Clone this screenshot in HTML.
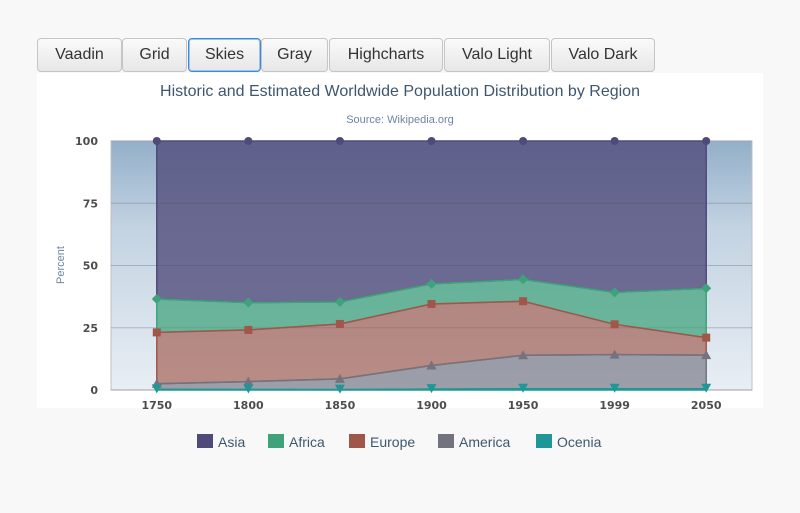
<!DOCTYPE html>
<html><head><meta charset="utf-8"><style>
body{margin:0;width:800px;height:513px;background:#f8f8f8;font-family:"Liberation Sans",sans-serif;position:relative;overflow:hidden}
.btn{position:absolute;top:38px;height:34px;box-sizing:border-box;border:1px solid #c5c5c5;border-radius:4px;background:linear-gradient(#fafafa,#e7e7e7);font-size:16px;color:#333;display:flex;align-items:center;justify-content:center}
.btn.sel{border:1px solid #3b8ad8;box-shadow:inset 0 0 0 1px #9cc4ec}
#chart{position:absolute;left:37px;top:73px;width:726px;height:335px;background:#fff}
</style></head><body>
<div class="btn" style="left:37px;width:85px">Vaadin</div>
<div class="btn" style="left:122px;width:65px">Grid</div>
<div class="btn sel" style="left:188px;width:73px">Skies</div>
<div class="btn" style="left:261px;width:67px">Gray</div>
<div class="btn" style="left:329px;width:114px">Highcharts</div>
<div class="btn" style="left:444px;width:106px">Valo Light</div>
<div class="btn" style="left:551px;width:104px">Valo Dark</div>
<div id="chart"></div>
<svg id="svg" width="800" height="513" style="position:absolute;left:0;top:0">
<defs><linearGradient id="sky" x1="0" y1="0" x2="0" y2="1">
<stop offset="0" stop-color="#93afc9"/><stop offset="0.35" stop-color="#c3d3e2"/><stop offset="1" stop-color="#e8eef4"/></linearGradient></defs>
<text x="400" y="96" text-anchor="middle" font-size="16" fill="#3e576f" font-family="Liberation Sans, sans-serif">Historic and Estimated Worldwide Population Distribution by Region</text>
<text x="400" y="123" text-anchor="middle" font-size="11" fill="#6d869f" font-family="Liberation Sans, sans-serif">Source: Wikipedia.org</text>
<rect x="111" y="141" width="641" height="249" fill="url(#sky)" stroke="#c0c0c0"/>
<g id="grid"></g><g id="areas"></g><g id="marks"></g><g id="axes"></g><g id="legend"></g>
<text transform="translate(64,265) rotate(-90)" text-anchor="middle" font-size="11" fill="#6d869f" font-family="Liberation Sans, sans-serif">Percent</text>
</svg>
<script>
const categories=['1750','1800','1850','1900','1950','1999','2050'];
const seriesNames=['Asia','Africa','Europe','America','Ocenia'];
const asia=[502,635,809,947,1402,3634,5268];
const africa=[106,107,111,133,221,767,1766];
const europe=[163,203,276,408,547,729,628];
const america=[18,31,54,156,339,818,1201];
const oceania=[2,2,2,6,13,30,46];
const yTicks=[0,25,50,75,100];
const colors=['#4f4a7a','#3ea27a','#a0574a','#737380','#1f9797'];
const fills=['rgba(79,74,122,0.78)','rgba(62,162,122,0.72)','rgba(160,87,74,0.65)','rgba(115,115,128,0.65)','rgba(31,151,151,0.7)'];
const data=[asia,africa,europe,america,oceania];
const X0=111,W=641,Y0=390,H=249;
const xs=i=>X0+W/categories.length*(i+0.5);
const ys=v=>Y0-v/100*H;
const NS='http://www.w3.org/2000/svg';
function mk(t,a,p){const e=document.createElementNS(NS,t);for(const k in a)e.setAttribute(k,a[k]);p.appendChild(e);return e;}
const g=document.getElementById('grid'),ar=document.getElementById('areas'),mg=document.getElementById('marks'),ax=document.getElementById('axes'),lg=document.getElementById('legend');
yTicks.forEach(t=>{
 const l=mk('line',{x1:X0,x2:X0+W,y1:ys(t),y2:ys(t),stroke:'rgba(120,120,140,0.45)'},g);
 
 
 const tx=mk('text',{x:98,y:ys(t)+4,'text-anchor':'end','font-size':11,'font-weight':'bold',fill:'#4d4d4d','font-family':'DejaVu Sans, sans-serif'},ax);
 tx.textContent=t;
 
 
});
categories.forEach((c,i)=>{
 const tx=mk('text',{x:xs(i),y:409,'text-anchor':'middle','font-size':11,'font-weight':'bold',fill:'#4d4d4d','font-family':'DejaVu Sans, sans-serif'},ax);
 tx.textContent=c;
 
 
});
const tot=categories.map((_,i)=>data.reduce((s,d)=>s+d[i],0));
let base=categories.map(()=>0);
const tops=[];
for(let s=data.length-1;s>=0;s--){
 const top=categories.map((_,i)=>base[i]+data[s][i]/tot[i]*100);
 tops[s]={top:top,base:base.slice()};
 base=top;
}
for(let s=0;s<data.length;s++){
 const t=tops[s];
 let d='M'+categories.map((_,i)=>xs(i)+','+ys(t.top[i])).join(' L');
 for(let i=categories.length-1;i>=0;i--)d+=' L'+xs(i)+','+ys(t.base[i]);
 const p=mk('path',{d:d+'Z',fill:fills[s],stroke:colors[s],'stroke-width':1.5},ar);
 
 
 categories.forEach((_,i)=>{
  const x=xs(i),y=ys(t.top[i]);let m;
  if(s==0)m=mk('circle',{cx:x,cy:y,r:4,fill:colors[s]},mg);
  else if(s==1)m=mk('path',{d:`M${x},${y-5}L${x+5},${y}L${x},${y+5}L${x-5},${y}Z`,fill:colors[s]},mg);
  else if(s==2)m=mk('rect',{x:x-4,y:y-4,width:8,height:8,fill:colors[s]},mg);
  else if(s==3)m=mk('path',{d:`M${x},${y-5}L${x+5},${y+4}L${x-5},${y+4}Z`,fill:colors[s]},mg);
  else m=mk('path',{d:`M${x},${y+4}L${x+5},${y-5}L${x-5},${y-5}Z`,fill:colors[s]},mg);
  
  
 });
}
const lx=[197,268,349,438,536];
seriesNames.forEach((n,i)=>{
 const r=mk('rect',{x:lx[i],y:434,width:16,height:14,fill:colors[i]},lg);
 
 
 const t=mk('text',{x:lx[i]+21,y:447,'font-size':14,fill:'#3e576f','font-family':'Liberation Sans, sans-serif'},lg);
 t.textContent=n;
 
 
});
</script>
</body></html>
